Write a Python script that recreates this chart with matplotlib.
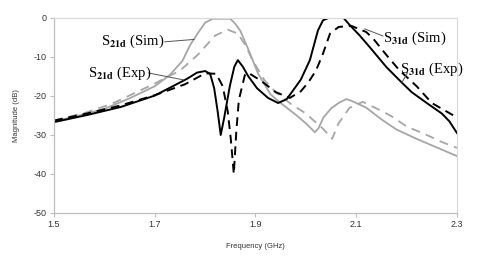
import matplotlib
matplotlib.use("Agg")
import matplotlib.pyplot as plt

plt.rcParams['mathtext.fontset'] = 'stix'

# S21d (Sim) - gray solid
s21_sim_x = [1.50, 1.55, 1.60, 1.65, 1.70, 1.73, 1.755, 1.77, 1.785, 1.80, 1.815, 1.85, 1.86, 1.87,
             1.885, 1.905, 1.93, 1.95, 1.98, 2.00, 2.018, 2.025, 2.035, 2.05, 2.065, 2.08, 2.09,
             2.12, 2.15, 2.18, 2.22, 2.26, 2.30]
s21_sim_y = [-26.5, -25.0, -23.3, -20.6, -17.5, -14.6, -11.0, -7.0, -4.0, -1.2, -0.2, -0.2, -1.5, -3.3,
             -7.8, -14.2, -19.6, -21.8, -24.8, -27.0, -29.3, -28.3, -25.5, -23.2, -21.8, -20.8, -21.2,
             -23.0, -26.0, -28.6, -31.0, -33.2, -35.4]

# gray dashed
s21_exp_x = [1.50, 1.565, 1.615, 1.70, 1.75, 1.785, 1.82, 1.845, 1.865, 1.88, 1.895, 1.918, 1.94,
             1.97, 2.00, 2.035, 2.052, 2.065, 2.087, 2.113, 2.15, 2.17, 2.20, 2.24, 2.27, 2.30]
s21_exp_y = [-26.3, -24.2, -22.0, -16.8, -13.5, -9.5, -4.5, -3.0, -4.0, -7.0, -11.0, -16.0, -19.0,
             -22.0, -24.5, -28.5, -31.0, -27.0, -23.0, -21.5, -23.8, -25.2, -27.8, -30.0, -31.8, -33.3]

# black solid
s31_exp_x = [1.50, 1.565, 1.633, 1.70, 1.764, 1.784, 1.80, 1.81, 1.818, 1.825, 1.831, 1.838, 1.849,
             1.858, 1.865, 1.875, 1.885, 1.903, 1.925, 1.945, 1.962, 1.975, 1.99, 2.008, 2.024,
             2.034, 2.045, 2.075, 2.087, 2.107, 2.127, 2.16, 2.19, 2.21, 2.24, 2.27, 2.285, 2.30]
s31_exp_y = [-26.7, -24.9, -22.8, -19.9, -15.6, -14.0, -13.6, -14.3, -18.0, -24.0, -30.0, -25.5, -17.5,
             -12.5, -10.8, -12.5, -14.8, -18.0, -20.5, -21.8, -20.8, -18.5, -15.8, -10.8, -3.2,
             -0.6, 0.0, 0.0, -1.8, -4.5, -7.5, -12.6, -16.5, -19.0, -21.8, -24.5, -26.5, -29.5]

# black dashed
s31_sim_x = [1.50, 1.565, 1.63, 1.70, 1.76, 1.80, 1.822, 1.835, 1.845, 1.851, 1.857, 1.862, 1.867,
             1.879, 1.885, 1.91, 1.94, 1.968, 1.99, 2.005, 2.02, 2.033, 2.048, 2.065, 2.09, 2.12,
             2.135, 2.16, 2.185, 2.22, 2.25, 2.30]
s31_sim_y = [-26.3, -24.5, -22.5, -19.8, -17.0, -14.2, -14.3, -17.5, -24.0, -31.0, -40.0, -29.0, -21.0,
             -14.6, -14.0, -16.0, -19.0, -20.5, -18.8, -16.5, -13.5, -9.5, -4.0, -2.3, -2.0, -3.6,
             -5.5, -9.5, -13.3, -17.5, -21.8, -25.5]

x_ticks = [1.5, 1.7, 1.9, 2.1, 2.3]
y_ticks = [0, -10, -20, -30, -40, -50]

fig = plt.figure(figsize=(4.79, 2.56), dpi=100)
ax = fig.add_axes([0.1127, 0.168, 0.8413, 0.7617])

gray = '#a6a6a6'
ax.plot(s21_sim_x, s21_sim_y, color=gray, lw=1.3, solid_joinstyle='round')
ax.plot(s21_exp_x, s21_exp_y, color=gray, lw=1.3, dashes=(5, 3.5))
ax.plot(s31_exp_x, s31_exp_y, color='black', lw=1.4, solid_joinstyle='round')
ax.plot(s31_sim_x, s31_sim_y, color='black', lw=1.4, dashes=(4.5, 3))

ax.set_xlim(1.5, 2.3)
ax.set_ylim(-50, 0)
ax.set_xticks(x_ticks)
ax.set_xticklabels([f'{v:.1f}' for v in x_ticks])
ax.set_yticks(y_ticks)
ax.set_yticklabels([f'{v}' for v in y_ticks])

for s in ['top', 'right']:
    ax.spines[s].set_color('#d8d8d8')
    ax.spines[s].set_linewidth(0.8)
for s in ['left', 'bottom']:
    ax.spines[s].set_color('#bdbdbd')
    ax.spines[s].set_linewidth(0.9)
ax.tick_params(axis='both', length=3, width=0.8, color='#bdbdbd', labelsize=6.5,
               labelcolor='#333333', pad=2)
for lab in ax.get_xticklabels() + ax.get_yticklabels():
    lab.set_family('Liberation Sans')

ax.set_xlabel('Frequency (GHz)', fontsize=5.5, family='Liberation Sans', color='#333333', labelpad=10)
ax.set_ylabel('Magnitude (dB)', fontsize=5.5, family='Liberation Sans', color='#333333', labelpad=10)

tfont = dict(family='Liberation Serif', fontsize=10.5, va='center', ha='left', color='black')
ax.text(1.593, -5.9, r'S$_{\mathbf{21d}}$ (Sim)', **tfont)
ax.plot([1.720, 1.778], [-6.1, -5.5], color='#555555', lw=0.7)
ax.text(1.567, -14.1, r'S$_{\mathbf{21d}}$ (Exp)', **tfont)
ax.plot([1.688, 1.758], [-14.1, -15.9], color='#555555', lw=0.7)
ax.text(2.153, -5.1, r'S$_{\mathbf{31d}}$ (Sim)', **tfont)
ax.plot([2.153, 2.117], [-4.6, -2.8], color='#555555', lw=0.7)
ax.text(2.187, -13.1, r'S$_{\mathbf{31d}}$ (Exp)', **tfont)
ax.plot([2.202, 2.190], [-14.0, -16.7], color='#555555', lw=0.7)

fig.savefig('out.png', dpi=100)
